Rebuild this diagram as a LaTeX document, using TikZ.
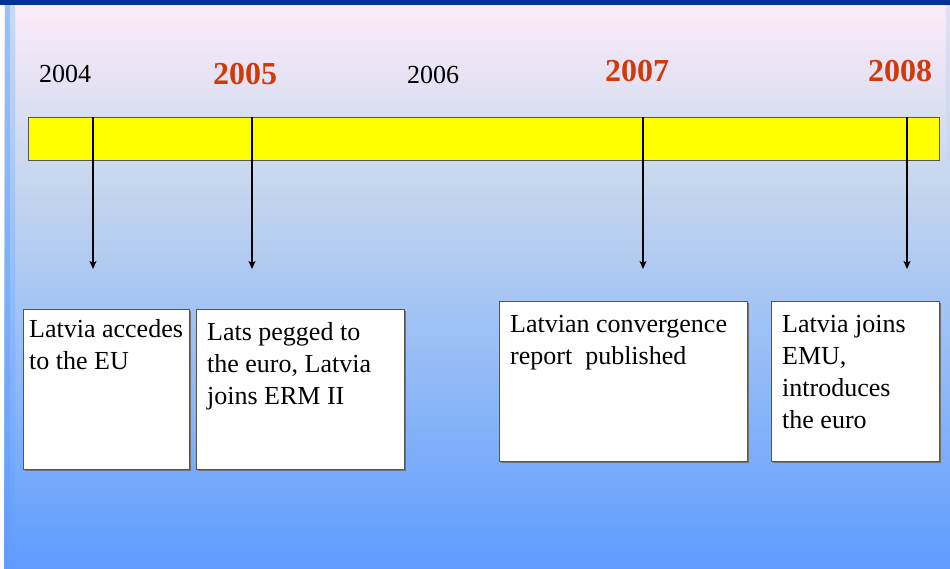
\documentclass[tikz,border=0pt]{standalone}
\usepackage{fontspec}
\setmainfont{Liberation Serif}
\usetikzlibrary{arrows.meta,shadows}

\definecolor{topband}{RGB}{0,51,153}
\definecolor{yearred}{RGB}{208,58,10}
\definecolor{bgtop}{RGB}{252,235,248}
\definecolor{bgmid}{RGB}{198,215,238}
\definecolor{bgbot}{RGB}{94,156,255}
\definecolor{edgeblue}{RGB}{150,196,248}
\definecolor{edgepale}{RGB}{200,218,244}
\definecolor{barfill}{RGB}{255,255,0}
\definecolor{framegray}{RGB}{85,85,85}

% event text: width, height, left pad, first line height, text
\newcommand{\evtext}[5]{\parbox[t][#2][t]{#1}{\raggedright\leftskip=#3\rule{0pt}{#4}#5}}

\tikzset{
  year/.style={anchor=base, font=\fontsize{26}{32}\selectfont},
  keyyear/.style={anchor=base, text=yearred, font=\fontsize{32}{38}\selectfont\bfseries},
  timebar/.style={draw=framegray, fill=barfill, minimum width=911pt, minimum height=43pt, inner sep=0pt},
  event/.style={draw=framegray, fill=white, anchor=north west, inner sep=0pt,
    font=\fontsize{26}{32}\selectfont,
    drop shadow={shadow xshift=1.5pt, shadow yshift=-1.5pt, fill=black!55, opacity=1}},
  tick/.style={-{Stealth[length=8pt,width=7pt,inset=2pt]}, line width=1.2pt}
}

\begin{document}
\begin{tikzpicture}[x=1pt, y=-1pt]
    \useasboundingbox (0,0) rectangle (950,569);
    % Background
    \fill[white] (0,0) rectangle (950,569);
    \shade[top color=bgtop, bottom color=bgmid] (4,5) rectangle (950,180);
    \shade[top color=bgmid, bottom color=bgbot] (4,180) rectangle (950,569);
    \shade[top color=edgeblue, bottom color=bgbot] (5,5) rectangle (10,569);
    \shade[top color=edgepale, bottom color=bgbot] (10,5) rectangle (15,569);
    \shade[top color=edgepale!60!bgtop, bottom color=bgmid] (946,5) rectangle (950,180);
    \fill[topband] (0,0) rectangle (950,5);

    % Nodes
    \node[year] (y04) at (65,83) {2004};
    \node[keyyear] (y05) at (245,85) {2005};
    \node[year] (y06) at (433,84) {2006};
    \node[keyyear] (y07) at (637,82) {2007};
    \node[keyyear] (y08) at (900,82) {2008};
    \node[timebar] (bar) at (483.5,138.5) {};

    \node[event] (accede) at (23,309) {\evtext{166pt}{160pt}{6pt}{28pt}{Latvia accedes\\to the EU}};
    \node[event] (erm) at (196,309) {\evtext{208pt}{160pt}{11pt}{31pt}{Lats pegged to\\the euro, Latvia\\joins ERM II}};
    \node[event] (report) at (499,301) {\evtext{248pt}{160pt}{11pt}{31pt}{Latvian convergence\\report~ published}};
    \node[event] (emu) at (771,301) {\evtext{168pt}{160pt}{11pt}{31pt}{Latvia joins\\EMU,\\introduces\\the euro}};

    \coordinate (t04) at (93,269);
    \coordinate (t05) at (252,269);
    \coordinate (t07) at (643,269);
    \coordinate (t08) at (907,269);

    % Edges
    \draw[tick] (bar.north -| t04) -- (t04);
    \draw[tick] (bar.north -| t05) -- (t05);
    \draw[tick] (bar.north -| t07) -- (t07);
    \draw[tick] (bar.north -| t08) -- (t08);
\end{tikzpicture}
\end{document}
